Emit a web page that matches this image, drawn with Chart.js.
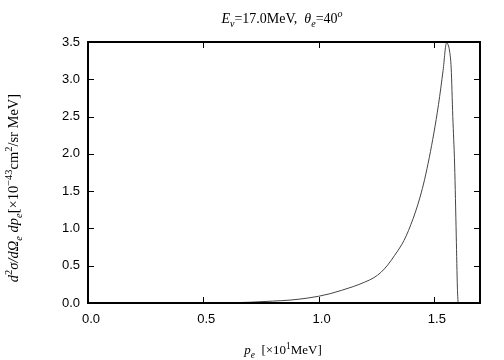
<!DOCTYPE html>
<html lang="en">
<head>
    <meta charset="UTF-8">
    <title>Cross section</title>
    <style>
        body { margin: 0; padding: 0; background: #fff; }
        #wrap { width: 504px; height: 360px; }
    </style>
    <script src="https://cdn.jsdelivr.net/npm/chart.js"></script>
</head>
<body>
    <div id="wrap"><canvas id="chart" width="504" height="360"></canvas></div>
    <script>
        // electron momentum p_e [x10 MeV] and d2sigma/dOmega dp [x10^-43 cm2/sr MeV]
        const pe = [0.58, 0.70, 0.80, 0.88, 0.95, 1.00, 1.05, 1.10, 1.15, 1.20, 1.24, 1.27,
                    1.30, 1.33, 1.36, 1.38, 1.40, 1.42, 1.44, 1.46, 1.48, 1.50, 1.52, 1.54,
                    1.555, 1.562, 1.568, 1.575, 1.582, 1.59, 1.597, 1.602, 1.605];
        const xsec = [0.0, 0.01, 0.025, 0.04, 0.065, 0.09, 0.125, 0.17, 0.22, 0.28, 0.34, 0.41,
                      0.51, 0.64, 0.78, 0.90, 1.05, 1.22, 1.42, 1.66, 1.95, 2.28, 2.66, 3.12,
                      3.49, 3.46, 3.38, 3.15, 2.5, 1.85, 0.9, 0.2, 0.0];
        const xTicks = [0, 0.5, 1.0, 1.5];
        const yTicks = [0, 0.5, 1.0, 1.5, 2.0, 2.5, 3.0, 3.5];

        // rich text pieces: [text, italic, position]
        const titleParts = [['E', true, 0], ['ν', true, 1], ['=17.0MeV,  ', false, 0],
                            ['θ', true, 0], ['e', true, 1], ['=40', false, 0], ['o', true, -1]];
        const xTitleParts = [['p', true, 0], ['e', true, 1], ['  [×10', false, 0], ['1', false, -1], ['MeV]', false, 0]];
        const yTitleParts = [['d', true, 0], ['2', false, -1], ['σ/dΩ', true, 0], ['e', true, 1],
                             [' dp', true, 0], ['e', true, 1], ['[×10', false, 0], ['−43', false, -1],
                             ['cm', false, 0], ['2', false, -1], ['/sr MeV]', false, 0]];

        function drawRich(ctx, parts, size) {
            const widths = parts.map(p => {
                ctx.font = (p[1] ? 'italic ' : '') + (p[2] ? size * 0.72 : size) + 'px "Liberation Serif"';
                return ctx.measureText(p[0]).width;
            });
            const total = widths.reduce((a, b) => a + b, 0);
            let x = -total / 2;
            parts.forEach((p, i) => {
                ctx.font = (p[1] ? 'italic ' : '') + (p[2] ? size * 0.72 : size) + 'px "Liberation Serif"';
                ctx.fillText(p[0], x, p[2] * size * 0.35);
                x += widths[i];
            });
        }

        const framePlugin = {
            id: 'frame',
            afterDraw(chart) {
                const ctx = chart.ctx;
                const a = chart.chartArea;
                const xs = chart.scales.x, ys = chart.scales.y;
                ctx.save();
                ctx.strokeStyle = '#000';
                ctx.lineWidth = 1;
                xTicks.forEach(v => {
                    const px = Math.round(xs.getPixelForValue(v)) + 0.5;
                    ctx.beginPath();
                    ctx.moveTo(px, a.bottom); ctx.lineTo(px, a.bottom - 6);
                    ctx.moveTo(px, a.top); ctx.lineTo(px, a.top + 6);
                    ctx.stroke();
                });
                yTicks.forEach(v => {
                    const py = Math.round(ys.getPixelForValue(v)) + 0.5;
                    ctx.beginPath();
                    ctx.moveTo(a.left, py); ctx.lineTo(a.left + 6, py);
                    ctx.moveTo(a.right, py); ctx.lineTo(a.right - 6, py);
                    ctx.stroke();
                });
                ctx.lineWidth = 2;
                ctx.strokeRect(a.left, a.top, a.right - a.left, a.bottom - a.top);

                ctx.fillStyle = '#000';
                ctx.textBaseline = 'middle';
                ctx.textAlign = 'left';
                ctx.save();
                ctx.translate((a.left + a.right) / 2 - 2, 19);
                drawRich(ctx, titleParts, 14);
                ctx.restore();
                ctx.save();
                ctx.translate((a.left + a.right) / 2 - 1, 351);
                drawRich(ctx, xTitleParts, 13);
                ctx.restore();
                ctx.save();
                ctx.translate(14, 188);
                ctx.rotate(-Math.PI / 2);
                drawRich(ctx, yTitleParts, 14.5);
                ctx.restore();
                ctx.restore();
            }
        };

        new Chart(document.getElementById('chart'), {
            type: 'line',
            data: {
                datasets: [{
                    data: pe.map((p, i) => ({ x: p, y: xsec[i] })),
                    borderColor: '#444',
                    borderWidth: 1,
                    pointRadius: 0,
                    cubicInterpolationMode: 'monotone',
                    fill: false
                }]
            },
            options: {
                responsive: false,
                animation: false,
                layout: { padding: { top: 42, right: 24, left: 0, bottom: 0 } },
                plugins: { legend: { display: false }, tooltip: { enabled: false } },
                scales: {
                    x: {
                        type: 'linear',
                        min: 0, max: 1.7,
                        grid: { display: false, drawTicks: false },
                        border: { display: false },
                        afterFit: s => { s.height = 57; },
                        afterBuildTicks: s => { s.ticks = xTicks.map(v => ({ value: v })); },
                        ticks: {
                            padding: 9,
                            labelOffset: 3,
                            maxRotation: 0,
                            color: '#000',
                            font: { family: '"Liberation Sans"', size: 13 },
                            callback: v => v.toFixed(1)
                        }
                    },
                    y: {
                        min: 0, max: 3.5,
                        grid: { display: false, drawTicks: false },
                        border: { display: false },
                        afterFit: s => { s.width = 88; },
                        afterBuildTicks: s => { s.ticks = yTicks.map(v => ({ value: v })); },
                        ticks: {
                            padding: 8,
                            color: '#000',
                            font: { family: '"Liberation Sans"', size: 13 },
                            callback: v => v.toFixed(1)
                        }
                    }
                }
            },
            plugins: [framePlugin]
        });
    </script>
</body>
</html>
